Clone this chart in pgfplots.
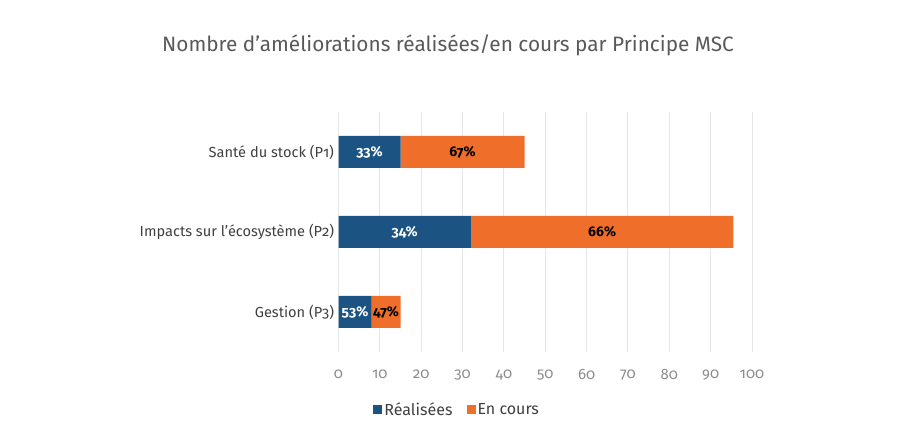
\documentclass[border=0pt]{standalone}
\usepackage{pgfplots}
\pgfplotsset{compat=1.18}
\usepackage{fontspec}
\setmainfont{Fira Sans}[Numbers=OldStyle]
\definecolor{cblue}{HTML}{1B5383}
\definecolor{corange}{HTML}{EF6E2A}
\definecolor{gridc}{HTML}{E6E6E6}
\definecolor{tickc}{HTML}{8C8C8C}
\definecolor{labc}{HTML}{404040}
\definecolor{titc}{HTML}{595959}
\begin{document}
\begin{tikzpicture}
\useasboundingbox (0pt,0pt) rectangle (900pt,446pt);
\node[text=titc,font=\fontsize{20.8}{24}\selectfont] at (448pt,401pt) {Nombre d’améliorations réalisées/en cours par Principe MSC};
\begin{axis}[
  at={(338.5pt,94pt)}, anchor=south west,
  scale only axis, width=413.5pt, height=240pt,
  xbar stacked, bar width=32pt,
  xmin=0, xmax=100, ymin=-0.5, ymax=2.5,
  xtick={0,10,...,100},
  ytick={0,1,2},
  yticklabels={Gestion (P3),Impacts sur l’écosystème (P2),Santé du stock (P1)},
  axis line style={draw=none},
  tick style={draw=none},
  xmajorgrids, grid style={gridc, line width=1pt},
  /pgf/number format/assume math mode=true,
  xticklabel style={text=tickc, font=\fontsize{15}{17}\selectfont, yshift=-14pt},
  yticklabel style={text=labc, font=\fontsize{14.6}{17}\selectfont, xshift=-1pt},
  legend style={at={(0.287,-0.24)}, anchor=center, draw=none, fill=none,
    legend columns=2, font=\fontsize{16}{19}\selectfont\color{labc},
    /tikz/every even column/.append style={column sep=12pt}},
  legend image code/.code={\fill[#1] (0pt,-4.5pt) rectangle (9pt,4.5pt);},
  legend cell align=left,
  nodes near coords,
  point meta=explicit symbolic,
  every node near coord/.append style={font=\bfseries\fontsize{14}{16}\selectfont, anchor=center},
]
\addplot[fill=cblue, draw=none, every node near coord/.append style={text=white}]
  coordinates {(8,0)[53\%] (32,1)[34\%] (15,2)[33\%]};
\addplot[fill=corange, draw=none, every node near coord/.append style={text=black}]
  coordinates {(7,0)[47\%] (63.5,1)[66\%] (30,2)[67\%]};
\legend{Réalisées\hspace{5pt}, En cours}
\end{axis}
\end{tikzpicture}
\end{document}
